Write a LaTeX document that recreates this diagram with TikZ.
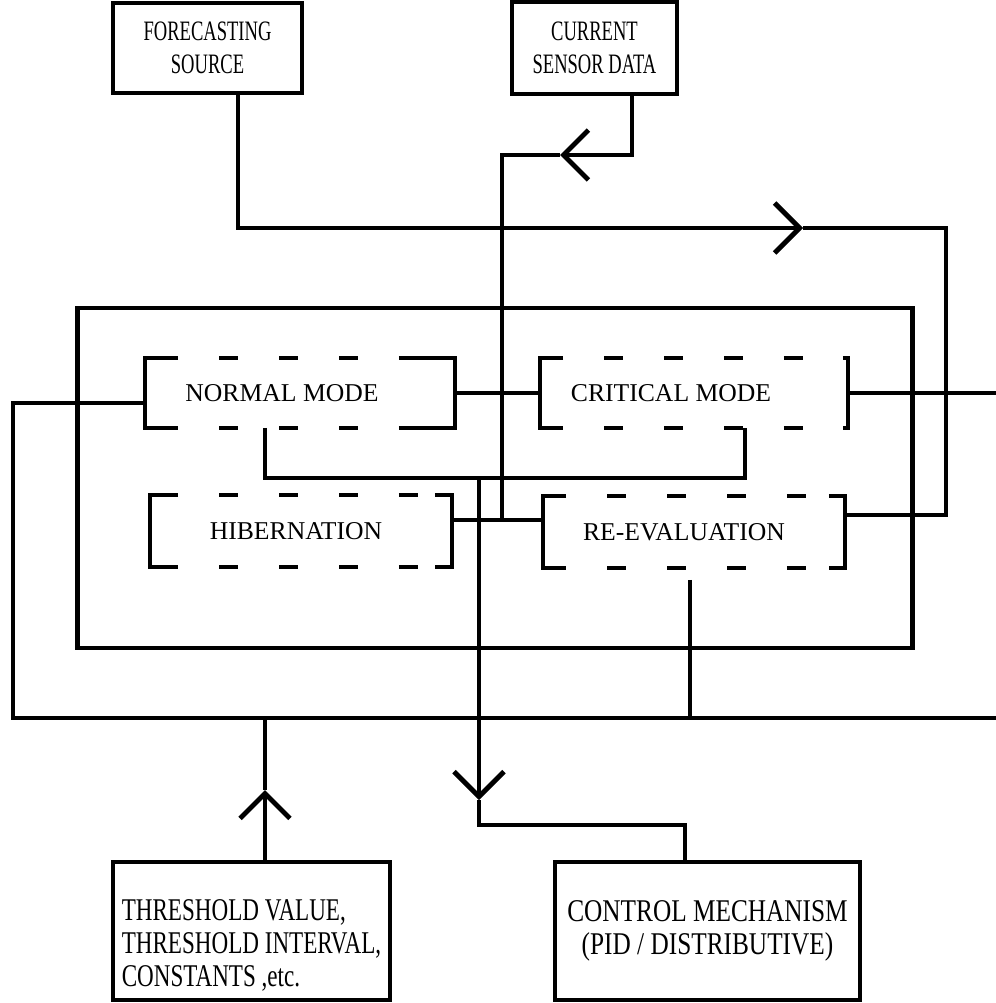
\documentclass[tikz,border=0pt]{standalone}
\usepackage{fontspec}
\setmainfont{Liberation Serif}
\newfontfamily\topfont{Liberation Serif}[FakeStretch=0.66]
\newfontfamily\threshfont{Liberation Serif}[FakeStretch=0.73]
\newfontfamily\ctrlfont{Liberation Serif}[FakeStretch=0.8]
\usetikzlibrary{arrows.meta, calc}
\tikzstyle{block} = [rectangle, draw=black, outer sep=0pt, align=center, inner sep=3pt]
\tikzstyle{modebox} = [rectangle, outer sep=0pt, minimum height=1.4cm, font=\fontsize{14.6}{18.5}\selectfont]
\tikzstyle{dashes} = [dash pattern=on 0.38cm off 0.82cm, dash phase=0.38cm]
\tikzstyle{arrow} = [->, >={Straight Barb[length=0.5cm,width=1cm]}]
% square brackets with dashes between: node, left arm, right arm
\newcommand{\brackets}[3]{%
  \draw ([xshift=#2]#1.north west) -| (#1.south west) -- ++(#2,0);
  \draw ([xshift=-#3]#1.north east) -| (#1.south east) -- ++(-#3,0);
  \draw[dashes] ([xshift=#2]#1.north west) -- ([xshift=-#3]#1.north east);
  \draw[dashes] ([xshift=#2]#1.south west) -- ([xshift=-#3]#1.south east);
}

\begin{document}
\begin{tikzpicture}[x=0.02cm, y=-0.02cm, line width=2.8pt]
    \useasboundingbox (0,0) rectangle (996,1003);

    \node (fcast) [block, minimum width=3.78cm, minimum height=1.8cm, font=\topfont\fontsize{16}{18.5}\selectfont] at (207.5,48) {FORECASTING\\SOURCE};
    \node (sensor) [block, minimum width=3.3cm, minimum height=1.84cm, font=\topfont\fontsize{16}{18.5}\selectfont] at (594.5,48) {CURRENT\\SENSOR DATA};

    \node (modes) [block, minimum width=16.72cm, minimum height=6.8cm] at (495,478) {};
    \node (normal) [modebox, minimum width=6.2cm] at (300,393) {NORMAL MODE\hspace*{0.72cm}};
    \node (critical) [modebox, minimum width=6.16cm] at (694,393) {CRITICAL MODE\hspace*{0.92cm}};
    \node (hiber) [modebox, minimum width=6.04cm, minimum height=1.44cm] at (301,531) {HIBERNATION\hspace*{0.2cm}};
    \node (reeval) [modebox, minimum width=6.04cm, minimum height=1.44cm] at (694,532) {RE-EVALUATION\hspace*{0.4cm}};
    \brackets{normal}{0.66cm}{1.04cm}
    \brackets{critical}{0.46cm}{0.1cm}
    \brackets{hiber}{0.56cm}{0.34cm}
    \brackets{reeval}{0.46cm}{0.32cm}

    \node (thresh) [block, minimum width=5.54cm, minimum height=2.76cm, align=left, text height=66pt, font=\threshfont\fontsize{18}{18.7}\selectfont] at (251.5,931) {THRESHOLD VALUE,\\THRESHOLD INTERVAL,\\CONSTANTS ,etc.};
    \node (control) [block, minimum width=6.1cm, minimum height=2.76cm, font=\ctrlfont\fontsize{18}{18.7}\selectfont] at (707.5,931) {CONTROL MECHANISM\\ (PID / DISTRIBUTIVE)};

    \coordinate (f1) at (238,228);
    \coordinate (fa) at (803,228);
    \coordinate (f2) at (946,228);
    \coordinate (f3) at (946,515);
    \coordinate (s1) at (632,155);
    \coordinate (sa) at (560,155);
    \coordinate (s2) at (502,155);
    \coordinate (s3) at (502,520);
    \coordinate (c1) at (996,393);
    \coordinate (n1) at (13,403);
    \coordinate (n2) at (13,718);
    \coordinate (n3) at (996,718);
    \coordinate (b1) at (265,478);
    \coordinate (b2) at (745,478);
    \coordinate (k1) at (479,478);
    \coordinate (ka) at (479,800);
    \coordinate (k2) at (479,825);
    \coordinate (k3) at (685,825);
    \coordinate (r2) at (690,718);
    \coordinate (t1) at (265,718);
    \coordinate (ta) at (265,790);

    \draw [arrow] (fcast.south -| f1) -- (f1) -- (fa);
    \draw (fa) -- (f2) -- (f3) -- (f3 -| reeval.east);
    \draw [arrow] (sensor.south -| s1) -- (s1) -- (sa);
    \draw (sa) -- (s2) -- (s3);
    \draw (hiber.east |- s3) -- (s3 -| reeval.west);
    \draw (normal.east) -- (critical.west);
    \draw (critical.east) -- (c1);
    \draw (normal.west |- n1) -- (n1) -- (n2) -- (n3);
    \draw (normal.south -| b1) -- (b1) -- (b2) -- (critical.south -| b2);
    \draw [arrow] (k1) -- (ka);
    \draw (ka) -- (k2) -- (k3) -- (control.north -| k3);
    \draw ([yshift=-0.24cm]reeval.south -| r2) -- (r2);
    \draw [arrow] (thresh.north -| t1) -- (ta);
    \draw (ta) -- (t1);

\end{tikzpicture}
\end{document}
